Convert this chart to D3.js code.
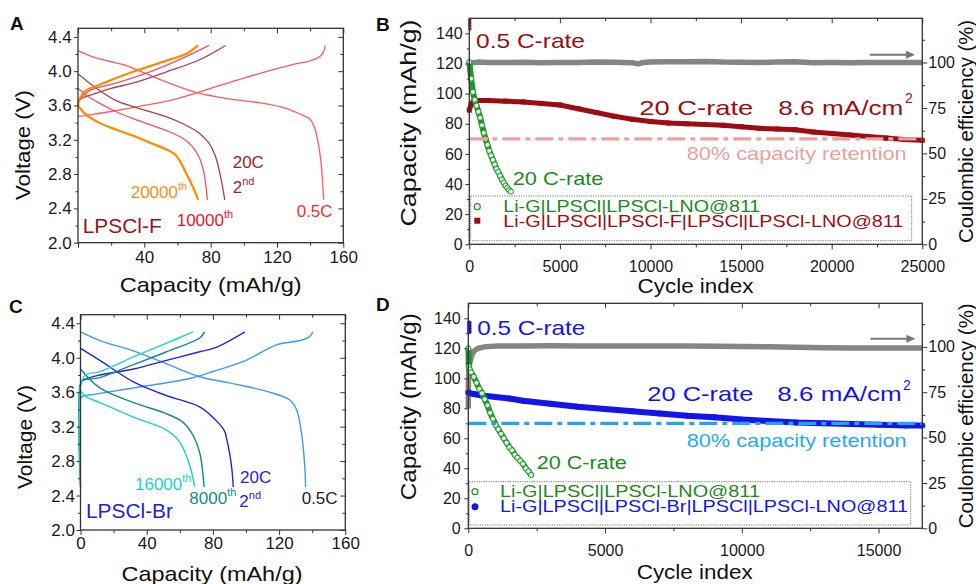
<!DOCTYPE html>
<html><head><meta charset="utf-8">
<script src="https://cdn.jsdelivr.net/npm/d3@7"></script>
<style>
body{margin:0;background:#fff}
svg{display:block}
text{font-family:"Liberation Sans",Arial,sans-serif}
</style>
</head><body>
<svg id="c" width="976" height="584"></svg>
<script>
// ---------------- DATA ----------------
// Panel A (LPSCl-F) voltage profiles: [capacity mAh/g, voltage V]
const A_05C_charge = [[0,3.47],[10,3.5],[20,3.53],[40,3.6],[60,3.68],[80,3.8],[100,3.92],[120,4.03],[130,4.08],[140,4.12],[145,4.16],[148,4.22],[149,4.3]];
const A_05C_discharge = [[0,4.24],[10,4.16],[20,4.11],[30,4.06],[40,3.98],[55,3.86],[70,3.76],[90,3.68],[110,3.63],[125,3.57],[135,3.49],[140,3.44],[143,3.32],[145,3.15],[146.5,2.95],[147.5,2.7],[148.2,2.5]];
const A_20C_charge = [[0,3.65],[3,3.69],[9,3.73],[20,3.8],[33,3.86],[53,3.99],[73,4.13],[89,4.3]];
const A_20C_discharge = [[0,3.97],[5,3.89],[12.6,3.78],[22.7,3.66],[32.8,3.59],[42.9,3.53],[53,3.47],[63,3.39],[73,3.28],[79,3.16],[83,3.0],[86,2.77],[88.5,2.5]];
const A_10k_charge = [[0,3.63],[1,3.67],[6.7,3.77],[22.8,3.86],[43,3.99],[63,4.15],[79,4.3]];
const A_10k_discharge = [[0,3.8],[5,3.72],[12.6,3.63],[22.7,3.53],[32.8,3.45],[42.9,3.38],[53,3.31],[63,3.22],[69,3.12],[73,3.0],[76,2.81],[78,2.5]];
const A_20k_charge = [[0,3.6],[1,3.68],[4.5,3.77],[12.6,3.84],[32.8,3.99],[53,4.12],[65,4.2],[72.5,4.3]];
const A_20k_discharge = [[0,3.6],[4.5,3.5],[12.6,3.4],[22.7,3.32],[32.8,3.25],[42.9,3.17],[53,3.09],[59,3.02],[65,2.82],[70,2.62],[72.5,2.5]];

// Panel C (LPSCl-Br) voltage profiles
const C_05C_charge = [[0,3.52],[1,3.55],[10,3.58],[32,3.65],[64,3.75],[80,3.84],[100,3.97],[118.5,4.15],[132.5,4.2],[138,4.24],[140.5,4.3]];
const C_05C_discharge = [[0,4.3],[11.7,4.2],[32,4.08],[52,3.93],[72,3.78],[92,3.7],[112.5,3.61],[126.5,3.51],[130.5,3.4],[133.5,3.13],[135.5,2.74],[136,2.5]];
const C_20C_charge = [[0,3.71],[1.5,3.74],[11.7,3.8],[32,3.87],[52,3.97],[72,4.07],[82,4.12],[99.3,4.3]];
const C_20C_discharge = [[0,4.11],[11.7,3.97],[32,3.72],[52,3.56],[72,3.43],[82,3.27],[87,3.15],[88.5,3.04],[90,2.9],[91.5,2.7],[92.3,2.5]];
const C_8k_charge = [[0,2.5],[0,3.7],[2,3.74],[11.7,3.77],[32,3.92],[52,4.07],[72,4.23],[75,4.3]];
const C_8k_discharge = [[0,3.87],[11.7,3.65],[32,3.48],[52,3.35],[62,3.25],[68,3.1],[72,2.9],[74.7,2.5]];
const C_16k_charge = [[0,2.5],[0,3.67],[3,3.8],[11.7,3.84],[32,4.01],[52,4.17],[68,4.3]];
const C_16k_discharge = [[0,3.62],[3,3.55],[11.7,3.48],[32,3.31],[52,3.16],[60,3.02],[66,2.75],[69,2.5]];

// Panel B cycling: [cycle, capacity mAh/g] / [cycle, CE %]
const B_F_05C = [[0,149],[1,147],[2,145],[3,143]];
const B_F_20C = [[0,89],[100,93],[250,95],[500,95.5],[1000,95.5],[2000,95],[3000,94.5],[4000,93.5],[5000,92.5],[6000,90],[7000,87.5],[8000,85],[9000,83],[10000,81.5],[11000,80.5],[12000,80],[13000,79.5],[14000,79],[15000,78],[16000,77],[17000,76.5],[18000,76],[19000,74.5],[20000,73.5],[21000,72.5],[22000,71.5],[23000,70.5],[24000,69.5],[25000,69]];
const B_LNO_20C = [[0,121],[100,110],[200,101],[300,96],[400,92],[500,88],[600,84],[700,79],[800,74],[900,70],[1000,66],[1100,62],[1200,59],[1300,56],[1400,53],[1500,50],[1600,48],[1700,45.5],[1800,43],[1900,41],[2000,39],[2100,37.5],[2200,36],[2300,35]];
const B_CE = [[0,99.6],[500,100.2],[1000,100],[2000,100],[3000,100.1],[4000,99.8],[5000,100],[6000,100],[7000,100.2],[8000,100.1],[9000,99.9],[9300,99.2],[9600,100],[10000,100.2],[11000,100.4],[12000,100.4],[13000,100.6],[14000,100.2],[15000,100.1],[16000,100],[17000,100.3],[18000,100.4],[19000,99.9],[20000,100],[21000,99.9],[22000,100],[23000,100],[24000,100],[25000,100]];

// Panel D cycling
const D_Br_05C = [[0,137],[1,135],[2,133],[3,131]];
const D_Br_20C = [[0,90.5],[200,89.5],[500,88.5],[1000,87.5],[1500,86.5],[2000,85],[3000,83],[4000,81],[5000,79.5],[6000,78],[7000,76.5],[8000,75],[9000,74],[10000,72.5],[11000,71.5],[12000,70.5],[13000,70],[14000,69.5],[15000,69],[16000,68.5],[16600,68.5]];
const D_LNO_20C = [[0,120],[20,108],[50,106],[100,104],[200,101],[300,97],[400,93],[500,90],[600,86],[700,82],[800,77],[900,73],[1000,69],[1100,66],[1200,63],[1300,60],[1400,57],[1500,54],[1600,52],[1700,49],[1800,47],[1900,45],[2000,43],[2100,40],[2200,38],[2300,35.5]];
const D_CE = [[0,66],[5,80],[20,88],[50,91],[100,94],[150,96],[200,97.5],[300,98.7],[400,99.4],[600,100],[1000,100.4],[2000,100.5],[3000,100.6],[4000,100.5],[5000,100.5],[6000,100.4],[7000,100.5],[8000,100.4],[9000,100.3],[10000,100.2],[11000,100],[12000,99.8],[13000,99.5],[14000,99.4],[15000,99.3],[16000,99.3],[16600,99.3]];

const retention = 70; // 80 % capacity retention level (mAh/g)

// tick values
const vTicks = [2.0,2.4,2.8,3.2,3.6,4.0,4.4];
const vMinor = [2.2,2.6,3.0,3.4,3.8,4.2];
const capTicksA = [40,80,120,160];
const capTicksC = [0,40,80,120,160];
const capTicksAll = [0,40,80,120,160];
const capMinor = [20,60,100,140];
const qTicks = [0,20,40,60,80,100,120,140];
const qMinor = [10,30,50,70,90,110,130];
const ceTicks = [0,25,50,75,100];
const ceMinor = [12.5,37.5,62.5,87.5,112.5];
const cycTicksB = [0,5000,10000,15000,20000,25000];
const cycMinorB = [2500,7500,12500,17500,22500];
const cycTicksD = [0,5000,10000,15000];
const cycMinorD = [2500,7500,12500];

// ---------------- DRAW ----------------
const svg = d3.select('#c');
const FRAME = '#333';

function axes(o){
  const g = svg.append('g');
  const [x0,x1] = o.x.range(), [y0,y1] = o.y.range();
  const style = s => { s.select('.domain').remove();
    s.selectAll('line').attr('stroke',FRAME).attr('stroke-width',1);
    s.selectAll('text').attr('font-size',o.fs).attr('fill','#1a1a1a')
      .attr('font-family','"Liberation Sans",Arial,sans-serif'); };
  g.append('g').attr('transform',`translate(0,${y0})`)
    .call(d3.axisBottom(o.x).tickValues(o.xTicksAll).tickSize(5).tickPadding(o.xPad).tickFormat(d=>o.xLabels.includes(d)?o.xFmt(d):''))
    .call(style);
  g.append('g').attr('transform',`translate(0,${y0})`)
    .call(d3.axisBottom(o.x).tickValues(o.xMinor).tickSize(3).tickFormat('')).call(style);
  g.append('g').attr('transform',`translate(0,${y1})`)
    .call(d3.axisTop(o.x).tickValues(o.xTicksAll).tickSize(-5).tickFormat('')).call(style);
  g.append('g').attr('transform',`translate(0,${y1})`)
    .call(d3.axisTop(o.x).tickValues(o.xMinor).tickSize(-3).tickFormat('')).call(style);
  g.append('g').attr('transform',`translate(${x0},0)`)
    .call(d3.axisLeft(o.y).tickValues(o.yTicks).tickSize(4).tickPadding(o.yPad).tickFormat(o.yFmt)).call(style);
  g.append('g').attr('transform',`translate(${x0},0)`)
    .call(d3.axisLeft(o.y).tickValues(o.yMinor).tickSize(2.5).tickFormat('')).call(style);
  if (o.yR){
    g.append('g').attr('transform',`translate(${x1},0)`)
      .call(d3.axisRight(o.yR).tickValues(ceTicks).tickSize(5).tickPadding(1).tickFormat(d3.format('d'))).call(style);
    g.append('g').attr('transform',`translate(${x1},0)`)
      .call(d3.axisRight(o.yR).tickValues(ceMinor).tickSize(3).tickFormat('')).call(style);
  } else {
    g.append('g').attr('transform',`translate(${x1},0)`)
      .call(d3.axisRight(o.y).tickValues(o.yTicks).tickSize(-5).tickFormat('')).call(style);
    g.append('g').attr('transform',`translate(${x1},0)`)
      .call(d3.axisRight(o.y).tickValues(o.yMinor).tickSize(-3).tickFormat('')).call(style);
  }
  g.append('rect').attr('x',x0).attr('y',y1).attr('width',x1-x0).attr('height',y0-y1)
    .attr('fill','none').attr('stroke',FRAME).attr('stroke-width',1.3);
}

function txt(x,y,s,o={}){
  const t = svg.append('text').attr('x',x).attr('y',y).text(s)
    .attr('font-size',o.size||16).attr('fill',o.color||'#111')
    .attr('text-anchor',o.anchor||'start');
  if (o.weight) t.attr('font-weight',o.weight);
  if (o.len) t.attr('textLength',o.len).attr('lengthAdjust','spacingAndGlyphs');
  if (o.rot!==undefined) t.attr('transform',`rotate(${o.rot},${x},${y})`);
  return t;
}
function sup(x,y,base,s,color,size=17){
  const t = svg.append('text').attr('x',x).attr('y',y).attr('font-size',size).attr('fill',color);
  t.append('tspan').text(base);
  t.append('tspan').text(s).attr('font-size',11).attr('dy',-8);
}

const xA = d3.scaleLinear([0,160],[78,343.3]);
const yA = d3.scaleLinear([2.0,4.5],[242.7,28.3]);
const xC = d3.scaleLinear([0,160],[80.5,345.3]);
const yC = d3.scaleLinear([2.0,4.5],[530,314.7]);

function curves(x,y,list){
  const ln = d3.line().x(d=>x(d[0])).y(d=>y(d[1])).curve(d3.curveCatmullRom.alpha(0.5));
  list.forEach(([data,color,w]) => svg.append('path').datum(data).attr('d',ln)
    .attr('fill','none').attr('stroke',color).attr('stroke-width',w).attr('stroke-linejoin','round'));
}

// ===== Panel A =====
curves(xA,yA,[
  [A_05C_charge,'#ff5a5a',1.3],[A_05C_discharge,'#ff5a5a',1.3],
  [A_20C_charge,'#a8404a',1.3],[A_20C_discharge,'#a8404a',1.3],
  [A_10k_charge,'#ee5068',1.3],[A_10k_discharge,'#ee5068',1.3],
  [A_20k_charge,'#ff8c00',2.2],[A_20k_discharge,'#ff8c00',2.2]
]);
axes({x:xA,y:yA,xTicksAll:capTicksAll,xLabels:capTicksA,xMinor:capMinor,yTicks:vTicks,yMinor:vMinor,
  xFmt:d3.format('d'),yFmt:d3.format('.1f'),fs:17,xPad:3.5,yPad:2.3});
txt(232.7,168.3,'20C',{size:17,color:'#a01c28'});
sup(232.7,193.3,'2','nd','#a01c28');
sup(130.7,198.3,'20000','th','#ff8c1a');
sup(176.7,225.7,'10000','th','#e8142e');
txt(296.7,217.3,'0.5C',{size:17,color:'#ff2a2a'});
txt(82.7,233.3,'LPSCl-F',{size:21,color:'#a0101c',len:79});
txt(29.5,145,'Voltage (V)',{size:20,color:'#111',anchor:'middle',rot:-90,len:110});
txt(210.7,291.5,'Capacity (mAh/g)',{size:21,color:'#111',anchor:'middle',len:182});
txt(10,30,'A',{size:19,weight:'bold',color:'#111'});

// ===== Panel C =====
curves(xC,yC,[
  [C_05C_charge,'#3d9bf5',1.4],[C_05C_discharge,'#3d9bf5',1.4],
  [C_20C_charge,'#2323e0',1.4],[C_20C_discharge,'#2323e0',1.4],
  [C_8k_charge,'#108c80',1.4],[C_8k_discharge,'#108c80',1.4],
  [C_16k_charge,'#1ed0d0',1.4],[C_16k_discharge,'#1ed0d0',1.4]
]);
axes({x:xC,y:yC,xTicksAll:capTicksAll,xLabels:capTicksC,xMinor:capMinor,yTicks:vTicks,yMinor:vMinor,
  xFmt:d3.format('d'),yFmt:d3.format('.1f'),fs:17,xPad:2.2,yPad:1.5});
txt(240,482.7,'20C',{size:17,color:'#2424dd'});
sup(239.3,506.7,'2','nd','#2424dd');
sup(135,490,'16000','th','#1fcfcf');
sup(189.3,504,'8000','th','#0f8f80');
txt(301.7,504,'0.5C',{size:17,color:'#222'});
txt(86,518.3,'LPSCl-Br',{size:21,color:'#2222dd',len:87});
txt(32,437,'Voltage (V)',{size:20,color:'#111',anchor:'middle',rot:-90,len:104});
txt(212,581,'Capacity (mAh/g)',{size:21,color:'#111',anchor:'middle',len:181});
txt(9,313,'C',{size:19,weight:'bold',color:'#111'});

// ===== Cycling panels =====
function cycling(o){
  const {x,y,yR} = o;
  const ln = (sy) => d3.line().x(d=>x(d[0])).y(d=>sy(d[1]));
  svg.append('path').datum(o.ce).attr('d',ln(yR)).attr('fill','none')
    .attr('stroke','#858585').attr('stroke-width',5.5).attr('stroke-linejoin','round');
  svg.append('path').datum(o.main).attr('d',ln(y)).attr('fill','none')
    .attr('stroke',o.mainColor).attr('stroke-width',o.mainW).attr('stroke-linejoin','round');
  if (o.mainShape==='square'){
    svg.selectAll(null).data(o.main).join('rect')
      .attr('x',d=>x(d[0])-2.5).attr('y',d=>y(d[1])-2.5).attr('width',5).attr('height',5).attr('fill',o.mainColor);
    svg.selectAll(null).data(o.half).join('rect')
      .attr('x',d=>x(d[0])-1).attr('y',d=>y(d[1])-1.5).attr('width',3).attr('height',3).attr('fill',o.mainColor);
  } else {
    svg.selectAll(null).data(o.main).join('circle')
      .attr('cx',d=>x(d[0])).attr('cy',d=>y(d[1])).attr('r',3).attr('fill',o.mainColor);
    svg.selectAll(null).data(o.half).join('circle')
      .attr('cx',d=>x(d[0])+1).attr('cy',d=>y(d[1])).attr('r',2.3).attr('fill',o.mainColor);
  }
  svg.append('path').datum(o.green).attr('d',ln(y)).attr('fill','none')
    .attr('stroke','#1f952a').attr('stroke-width',6).attr('stroke-linejoin','round');
  svg.selectAll(null).data(o.green).join('circle')
    .attr('cx',d=>x(d[0])).attr('cy',d=>y(d[1])).attr('r',2.6)
    .attr('fill','#dff2df').attr('stroke','#1f952a').attr('stroke-width',1);
  svg.append('line').attr('x1',x.range()[0]).attr('x2',x.range()[1])
    .attr('y1',y(retention)).attr('y2',y(retention))
    .attr('stroke',o.dashColor).attr('stroke-width',3.3).attr('stroke-dasharray','18,5,5,5');
  axes({x,y,yR,xTicksAll:o.xTicks,xLabels:o.xTicks,xMinor:o.xMinor,yTicks:qTicks,yMinor:qMinor,
    xFmt:d3.format('d'),yFmt:d3.format('d'),fs:16,xPad:o.xPad,yPad:o.yPad});
  const ay = yR(o.arrowCE), ax0 = x(o.arrowFrom), ax1 = x(o.arrowTo);
  svg.append('line').attr('x1',ax0).attr('x2',ax1-7).attr('y1',ay).attr('y2',ay).attr('stroke','#777').attr('stroke-width',2);
  svg.append('path').attr('d',`M${ax1},${ay}L${ax1-9},${ay-4}L${ax1-9},${ay+4}Z`).attr('fill','#777');
}

// ===== Panel B =====
const xB = d3.scaleLinear([0,25000],[469.3,922.3]);
const yB = d3.scaleLinear([0,150],[244.3,18.3]);
const yBR = d3.scaleLinear([0,124.3],[244.3,18.3]);
cycling({x:xB,y:yB,yR:yBR,ce:B_CE,main:B_F_20C,half:B_F_05C,mainColor:'#9e0c12',mainW:5,mainShape:'square',
  green:B_LNO_20C,dashColor:'#eda0a0',xTicks:cycTicksB,xMinor:cycMinorB,xPad:11,yPad:2.6,
  arrowCE:104.3,arrowFrom:22100,arrowTo:24600});
txt(476,48.3,'0.5 C-rate',{size:21,color:'#a00c10',len:109});
txt(639.3,115,'20 C-rate',{size:21,color:'#a00c10',len:114});
txt(778.3,115,'8.6 mA/cm',{size:21,color:'#a00c10',len:125});
txt(905,103,'2',{size:14,color:'#a00c10'});
txt(686.7,160,'80% capacity retention',{size:19,color:'#eca0a0',len:220});
txt(512.7,185,'20 C-rate',{size:19,color:'#1a8c1a',len:90.7});
svg.append('rect').attr('x',470.7).attr('y',196).attr('width',441).attr('height',44.7)
  .attr('fill','none').attr('stroke','#777').attr('stroke-width',1).attr('stroke-dasharray','1.2,1.2');
svg.append('circle').attr('cx',477.3).attr('cy',206.7).attr('r',3).attr('fill','none').attr('stroke','#1f952a').attr('stroke-width',1.2);
svg.append('rect').attr('x',474.3).attr('y',217.7).attr('width',6).attr('height',6).attr('fill','#9e0c12');
txt(503.3,212.3,'Li-G|LPSCl|LPSCl-LNO@811',{size:17,color:'#1a8c1a',len:257});
txt(503.3,226.7,'Li-G|LPSCl|LPSCl-F|LPSCl|LPSCl-LNO@811',{size:17,color:'#a00c10',len:400});
txt(416,123,'Capacity  (mAh/g)',{size:22,color:'#111',anchor:'middle',rot:-90,len:207});
txt(973,131.5,'Coulombic efficiency (%)',{size:20,color:'#111',anchor:'middle',rot:-90,len:223});
txt(695.5,293.3,'Cycle index',{size:21,color:'#111',anchor:'middle',len:116});
txt(376,31,'B',{size:19,weight:'bold',color:'#111'});

// ===== Panel D =====
const xD = d3.scaleLinear([0,16600],[468.3,922.3]);
const yD = d3.scaleLinear([0,150],[528.3,303.3]);
const yDR = d3.scaleLinear([0,124],[528.3,303.3]);
cycling({x:xD,y:yD,yR:yDR,ce:D_CE,main:D_Br_20C,half:D_Br_05C,mainColor:'#1414ee',mainW:6,mainShape:'circle',
  green:D_LNO_20C,dashColor:'#1ea6f2',xTicks:cycTicksD,xMinor:cycMinorD,xPad:11.5,yPad:3.6,
  arrowCE:104.5,arrowFrom:14700,arrowTo:16350});
txt(477.3,335,'0.5 C-rate',{size:21,color:'#1414ee',len:108});
txt(647.3,400.7,'20 C-rate',{size:21,color:'#1414ee',len:106});
txt(777.3,400.7,'8.6 mA/cm',{size:21,color:'#1414ee',len:124.4});
txt(903,390,'2',{size:14,color:'#1414ee'});
txt(686.7,446.7,'80% capacity retention',{size:19,color:'#1eaaf5',len:220});
txt(536.7,469,'20 C-rate',{size:19,color:'#1a8c1a',len:90});
svg.append('rect').attr('x',469.3).attr('y',481.7).attr('width',441.4).attr('height',43.3)
  .attr('fill','none').attr('stroke','#777').attr('stroke-width',1).attr('stroke-dasharray','1.2,1.2');
svg.append('circle').attr('cx',475).attr('cy',491.7).attr('r',3).attr('fill','none').attr('stroke','#1f952a').attr('stroke-width',1.2);
svg.append('circle').attr('cx',475).attr('cy',506.7).attr('r',3.5).attr('fill','#1414ee');
txt(500,497.3,'Li-G|LPSCl|LPSCl-LNO@811',{size:16.5,color:'#1a8c1a',len:260});
txt(500,512.3,'Li-G|LPSCl|LPSCl-Br|LPSCl|LPSCl-LNO@811',{size:16.5,color:'#1414ee',len:408});
txt(416,406.7,'Capacity (mAh/g)',{size:22,color:'#111',anchor:'middle',rot:-90,len:187});
txt(973,415.8,'Coulombic efficiency (%)',{size:20,color:'#111',anchor:'middle',rot:-90,len:225});
txt(694.7,579.3,'Cycle index',{size:21,color:'#111',anchor:'middle',len:116});
txt(376,311,'D',{size:19,weight:'bold',color:'#111'});
</script>
</body></html>
